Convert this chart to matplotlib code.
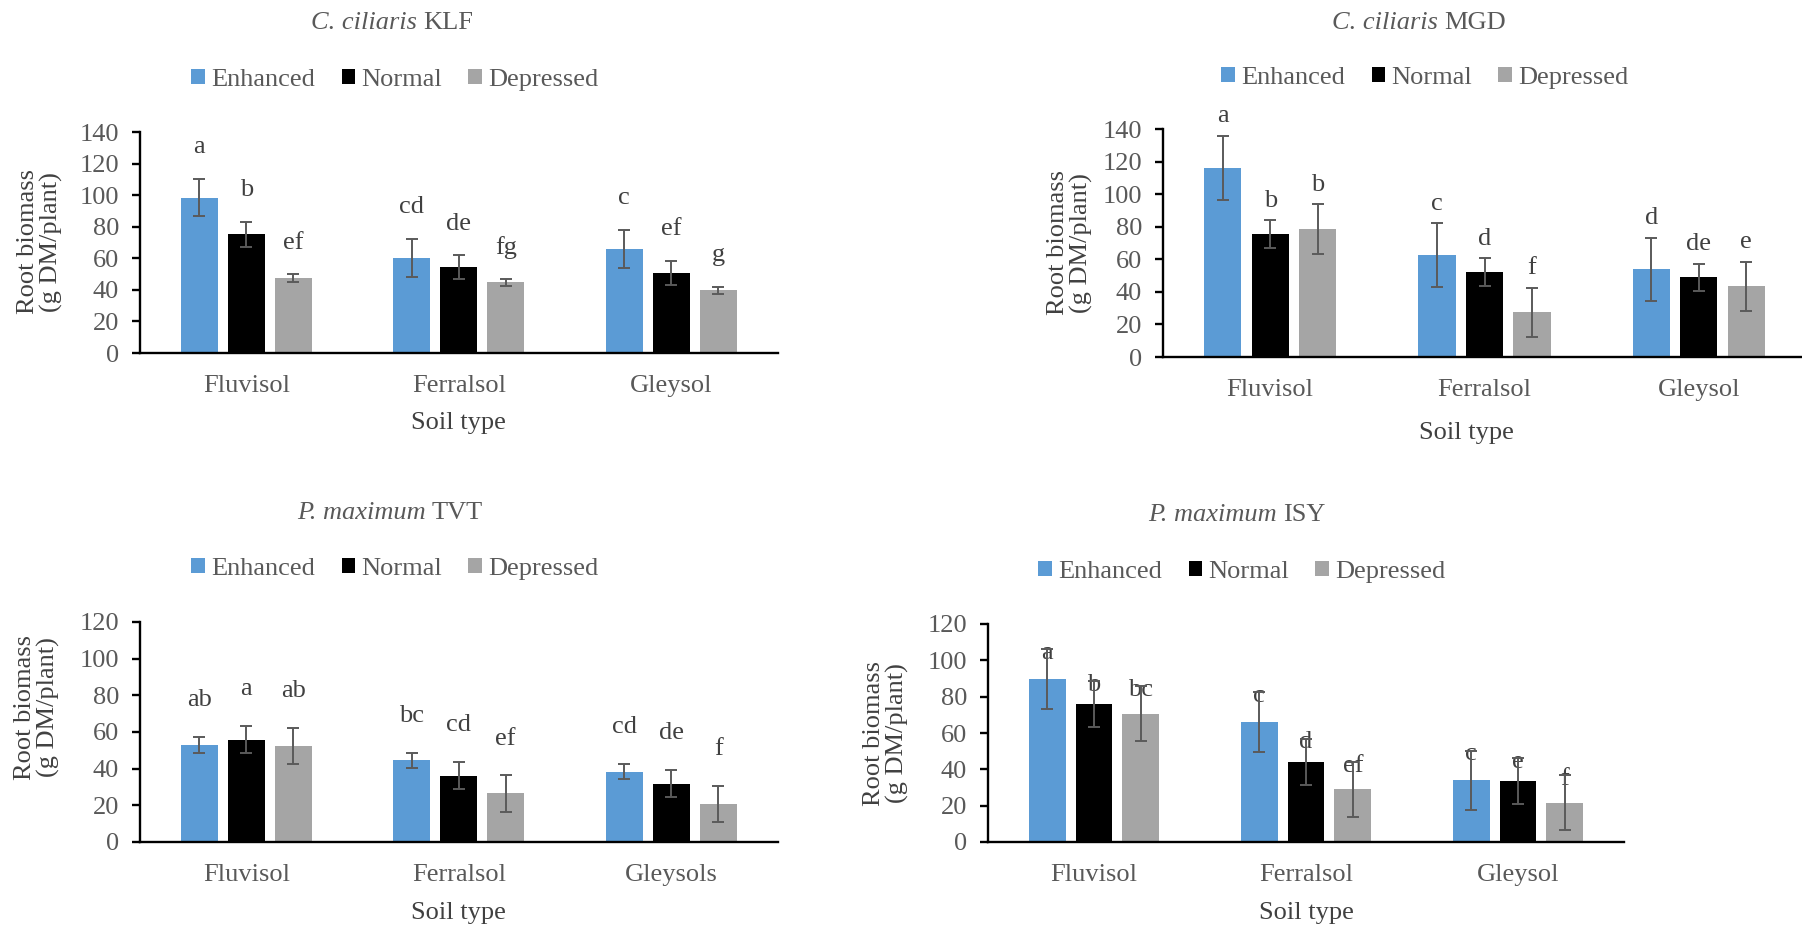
import matplotlib
matplotlib.use("Agg")
import matplotlib.pyplot as plt
from matplotlib.patches import Patch
import numpy as np

plt.rcParams["font.family"] = ["Liberation Serif", "DejaVu Serif"]

W, H = 1802, 926
TEXT = "#595959"
FS = 19

series = ["Enhanced", "Normal", "Depressed"]
colors = ["#5B9BD5", "#000000", "#A5A5A5"]

soils = ["Fluvisol", "Ferralsol", "Gleysol"]
soils_tvt = ["Fluvisol", "Ferralsol", "Gleysols"]

# C. ciliaris KLF
klf_mean = [[98.5, 60.4, 65.9], [75.2, 54.4, 50.8], [47.4, 44.7, 39.8]]
klf_err = [[12.0, 12.0, 12.0], [7.8, 7.6, 7.6], [2.5, 2.2, 2.2]]
klf_letters = [["a", "cd", "c"], ["b", "de", "ef"], ["ef", "fg", "g"]]

# C. ciliaris MGD
mgd_mean = [[116.0, 62.6, 53.8], [75.5, 52.1, 48.9], [78.4, 27.5, 43.5]]
mgd_err = [[19.7, 19.5, 19.5], [8.4, 8.5, 8.5], [15.3, 15.0, 15.0]]
mgd_letters = [["a", "c", "d"], ["b", "d", "de"], ["b", "f", "e"]]

# P. maximum TVT
tvt_mean = [[53.1, 44.5, 38.4], [55.8, 36.2, 31.8], [52.5, 26.5, 20.7]]
tvt_err = [[4.3, 4.3, 4.3], [7.4, 7.4, 7.4], [9.9, 9.9, 9.9]]
tvt_letters = [["ab", "bc", "cd"], ["a", "cd", "de"], ["ab", "ef", "f"]]

# P. maximum ISY
isy_mean = [[89.7, 66.1, 33.9], [75.8, 44.2, 33.6], [70.6, 29.0, 21.7]]
isy_err = [[16.3, 16.3, 16.3], [12.7, 12.7, 12.7], [15.1, 15.1, 15.1]]
isy_letters = [["a", "c", "c"], ["b", "d", "e"], ["bc", "ef", "f"]]


def fx(px):
    return px / W


def fy(py):
    return 1 - py / H


def title_text(fig, cx, cy, species, cultivar):
    # italic species name followed by roman cultivar code, centred as one line
    r = fig.canvas.get_renderer()
    t1 = fig.text(0, fy(cy), species + " ", fontstyle="italic", fontsize=FS,
                  color=TEXT, va="center", ha="left")
    t2 = fig.text(0, fy(cy), cultivar, fontsize=FS, color=TEXT,
                  va="center", ha="left")
    w1 = t1.get_window_extent(r).width
    w2 = t2.get_window_extent(r).width
    left = cx - (w1 + w2) / 2
    t1.set_x(fx(left))
    t2.set_x(fx(left + w1))


def draw_panel(fig, lay, species, cultivar, cats, means, errs, letters, ymax):
    # axes placed in pixel terms: left, right, y of zero, y of ymax
    xl, xr, y0, yt = lay["axes"]
    ax = fig.add_axes([fx(xl), fy(y0), (xr - xl) / W, (y0 - yt) / H])
    x = np.arange(len(cats))
    step, width = 0.221, 0.174
    for i, (m, e, lab) in enumerate(zip(means, errs, letters)):
        xs = x + (i - 1) * step
        ax.bar(xs, m, width=width, color=colors[i], zorder=2)
        ax.errorbar(xs, m, yerr=e, fmt="none", ecolor="#5a5a5a",
                    elinewidth=1.4, capsize=4.3, capthick=1.4, zorder=4)
        for xi, mi, ei, t in zip(xs, m, e, lab):
            ax.text(xi, mi + ei + lay["letter_off"], t, ha="center", va="center",
                    fontsize=FS, color="#404040", zorder=3)

    ax.set_xlim(-0.5, len(cats) - 0.5)
    ax.set_ylim(0, ymax)
    ax.set_yticks(np.arange(0, ymax + 1, 20))
    ax.set_xticks(x)
    ax.set_xticklabels(cats)
    for s in ["top", "right"]:
        ax.spines[s].set_visible(False)
    for s in ["left", "bottom"]:
        ax.spines[s].set_linewidth(1.7)
        ax.spines[s].set_color("black")
    ax.tick_params(axis="y", length=6, width=1.7, pad=9, labelsize=FS,
                   labelcolor=TEXT, color="black")
    ax.tick_params(axis="x", length=0, pad=16, labelsize=FS, labelcolor=TEXT)
    ax.set_xlabel("Soil type", fontsize=FS, color="#404040")
    ax.xaxis.set_label_coords((lay["xlabel_x"] - xl) / (xr - xl),
                              -lay["xlabel_dy"] / (y0 - yt))
    ax.xaxis.label.set_va("center")

    tx, ty = lay["title"]
    title_text(fig, tx, ty, species, cultivar)

    lx, ly = lay["ylabel"]
    fig.text(fx(lx), fy(ly), "Root biomass\n(g DM/plant)", rotation=90,
             ha="center", va="center", multialignment="center",
             fontsize=FS, color="#404040", linespacing=1.05)

    handles = [Patch(facecolor=c, edgecolor="none") for c in colors]
    gx, gy = lay["legend"]
    fig.legend(handles, series, loc="center", bbox_to_anchor=(fx(gx), fy(gy)),
               ncol=3, frameon=False, fontsize=FS, labelcolor=TEXT,
               handlelength=0.5, handleheight=0.5, handletextpad=0.25,
               columnspacing=1.0, borderaxespad=0, borderpad=0)
    return ax


fig = plt.figure(figsize=(W / 100, H / 100), dpi=100)

draw_panel(fig, {"axes": (140, 777.5, 353, 132), "letter_off": 20,
                 "title": (392, 23), "legend": (395, 80), "ylabel": (40, 242),
                 "xlabel_x": 458, "xlabel_dy": 70},
           "C. ciliaris", "KLF", soils, klf_mean, klf_err, klf_letters, 140)

draw_panel(fig, {"axes": (1163, 1806, 357, 129), "letter_off": 12,
                 "title": (1419, 23), "legend": (1425, 78), "ylabel": (1070, 243),
                 "xlabel_x": 1466, "xlabel_dy": 76},
           "C. ciliaris", "MGD", soils, mgd_mean, mgd_err, mgd_letters, 140)

draw_panel(fig, {"axes": (140, 777.5, 842, 622), "letter_off": 20,
                 "title": (390, 513), "legend": (395, 569), "ylabel": (37, 707),
                 "xlabel_x": 458, "xlabel_dy": 71},
           "P. maximum", "TVT", soils_tvt, tvt_mean, tvt_err, tvt_letters, 120)

draw_panel(fig, {"axes": (988, 1624, 842, 624), "letter_off": -2,
                 "title": (1237, 515), "legend": (1242, 572), "ylabel": (886, 733),
                 "xlabel_x": 1306, "xlabel_dy": 71},
           "P. maximum", "ISY", soils, isy_mean, isy_err, isy_letters, 120)

fig.savefig("out.png", dpi=100)
